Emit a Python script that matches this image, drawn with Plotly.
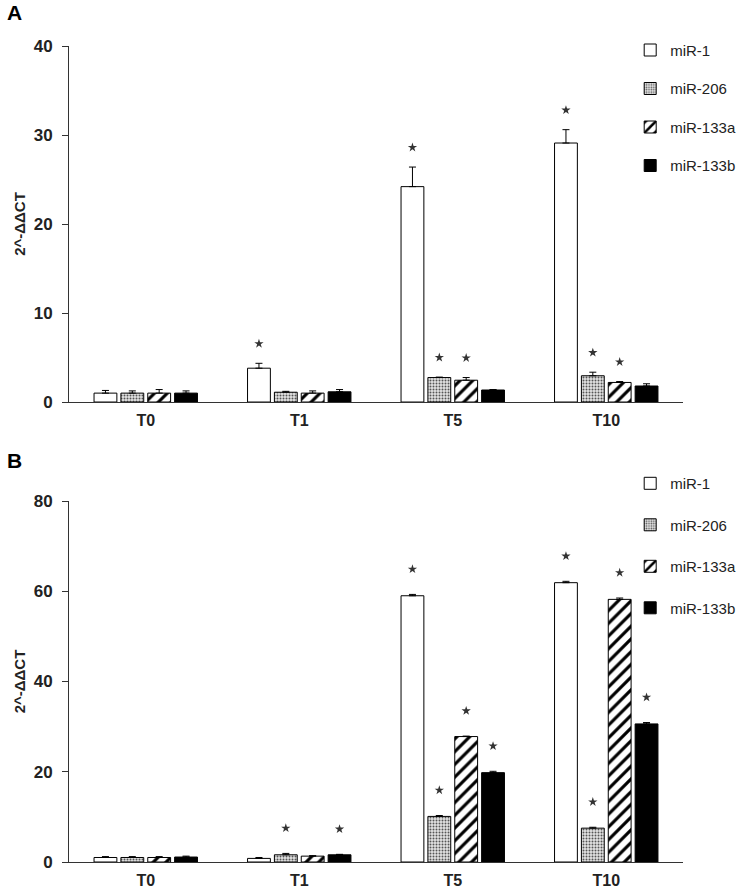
import plotly.graph_objects as go

categories = ["T0", "T1", "T5", "T10"]
series = ["miR-1", "miR-206", "miR-133a", "miR-133b"]

# Panel A
a_values = {
    "miR-1": [1.0, 3.8, 24.2, 29.1],
    "miR-206": [1.0, 1.1, 2.75, 2.95],
    "miR-133a": [1.0, 1.0, 2.45, 2.2],
    "miR-133b": [1.0, 1.15, 1.35, 1.8],
}
a_errors = {
    "miR-1": [0.3, 0.55, 2.2, 1.5],
    "miR-206": [0.25, 0.1, 0.05, 0.4],
    "miR-133a": [0.4, 0.25, 0.3, 0.1],
    "miR-133b": [0.25, 0.25, 0.05, 0.25],
}
a_sig = {
    "miR-1": [False, True, True, True],
    "miR-206": [False, False, True, True],
    "miR-133a": [False, False, True, True],
    "miR-133b": [False, False, False, False],
}

# Panel B
b_values = {
    "miR-1": [1.0, 0.8, 59.0, 61.9],
    "miR-206": [1.0, 1.6, 10.1, 7.5],
    "miR-133a": [1.0, 1.3, 27.8, 58.2],
    "miR-133b": [1.1, 1.6, 19.8, 30.6],
}
b_errors = {
    "miR-1": [0.2, 0.2, 0.3, 0.3],
    "miR-206": [0.2, 0.3, 0.2, 0.2],
    "miR-133a": [0.2, 0.1, 0.1, 0.3],
    "miR-133b": [0.2, 0.1, 0.3, 0.3],
}
b_sig = {
    "miR-1": [False, False, True, True],
    "miR-206": [False, True, True, True],
    "miR-133a": [False, False, True, True],
    "miR-133b": [False, True, True, True],
}

a_ticks = [0, 10, 20, 30, 40]
b_ticks = [0, 20, 40, 60, 80]

FONT = "Liberation Sans, Arial, sans-serif"
INK = "#222222"

styles = {
    "miR-1": dict(color="white", pattern=dict(shape="")),
    "miR-206": dict(color="white", pattern=dict(shape=".", size=3, solidity=0.35, fgcolor="#555555", bgcolor="#e4e4e4", fillmode="replace")),
    "miR-133a": dict(color="white", pattern=dict(shape="/", size=9, solidity=0.35, fgcolor="black", bgcolor="white", fillmode="replace")),
    "miR-133b": dict(color="black", pattern=dict(shape="")),
}

fig = go.Figure()

def add_panel(values, errors, sig, xa, ya, legend, star_off):
    for s in series:
        st = styles[s]
        fig.add_trace(go.Bar(
            x=categories, y=values[s], name=s,
            xaxis=xa, yaxis=ya, legend=legend,
            legendgroup=legend + s,
            offsetgroup=s, alignmentgroup=legend,
            marker=dict(color=st["color"], pattern=st["pattern"],
                        line=dict(color="black", width=1)),
            error_y=dict(type="data", array=errors[s], arrayminus=[0] * 4,
                         symmetric=False, color="black", thickness=1, width=3.5),
            hoverinfo="skip",
        ))
    for s in series:
        xs, ys = [], []
        for c, v, e, f in zip(categories, values[s], errors[s], sig[s]):
            xs.append(c)
            ys.append(v + e + star_off if f else None)
        fig.add_trace(go.Scatter(
            x=xs, y=ys, mode="markers", xaxis=xa, yaxis=ya,
            offsetgroup=s, alignmentgroup=legend,
            marker=dict(symbol="star", size=7, color="#333333"),
            showlegend=False, hoverinfo="skip",
        ))

add_panel(a_values, a_errors, a_sig, "x", "y", "legend", 2.2)
add_panel(b_values, b_errors, b_sig, "x2", "y2", "legend2", 5.6)

axis_x = dict(
    showline=True, linecolor="#333333", linewidth=1,
    ticks="", showgrid=False, zeroline=False,
    tickfont=dict(family=FONT, size=16, color=INK, weight="bold"),
    ticklabelstandoff=4, automargin=False,
)
axis_y = dict(
    showline=True, linecolor="#333333", linewidth=1,
    ticks="outside", ticklen=6, tickcolor="#333333", showgrid=False, zeroline=False,
    tickfont=dict(family=FONT, size=17, color=INK, weight="bold"),
    ticklabelstandoff=6,
    title=dict(text="2^-ΔΔCT", font=dict(family=FONT, size=15, color=INK, weight="bold"), standoff=4),
    automargin=False,
)

legend_common = dict(
    font=dict(family=FONT, size=15, color=INK),
    bgcolor="rgba(0,0,0,0)", itemwidth=30,
    xanchor="left", yanchor="top", traceorder="grouped",
)

fig.update_layout(
    width=749, height=891,
    margin=dict(l=69, r=66, t=46, b=29, autoexpand=False),
    paper_bgcolor="white", plot_bgcolor="white",
    barmode="group", bargap=0.3, bargroupgap=0.15,
    scattermode="group",
    xaxis=dict(axis_x, anchor="y", domain=[0, 1]),
    yaxis=dict(axis_y, anchor="x", domain=[0.5637, 1.0], range=[0, 40], tickvals=a_ticks),
    xaxis2=dict(axis_x, anchor="y2", domain=[0, 1]),
    yaxis2=dict(axis_y, anchor="x2", domain=[0, 0.4424], range=[0, 80], tickvals=b_ticks),
    legend=dict(legend_common, x=0.914, y=1.015, tracegroupgap=16),
    legend2=dict(legend_common, x=0.914, y=0.484, tracegroupgap=19),
    annotations=[
        dict(text="<b>A</b>", xref="paper", yref="paper", x=-0.105, y=1.057,
             xanchor="left", yanchor="top", showarrow=False,
             font=dict(family=FONT, size=21, color="black")),
        dict(text="<b>B</b>", xref="paper", yref="paper", x=-0.105, y=0.508,
             xanchor="left", yanchor="top", showarrow=False,
             font=dict(family=FONT, size=21, color="black")),
    ],
    showlegend=True,
)

fig.write_html(
    "out.html",
    config={"displayModeBar": False},
    post_script="document.body.style.margin='0';document.body.style.overflow='hidden';",
)
